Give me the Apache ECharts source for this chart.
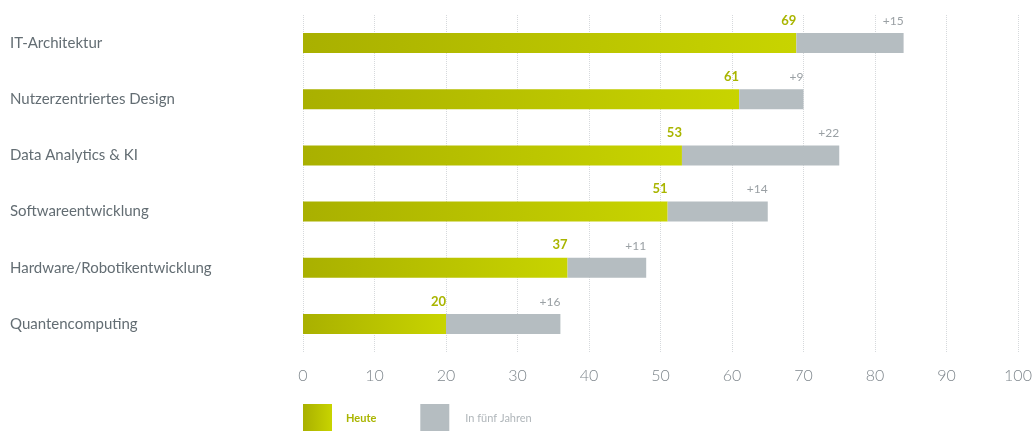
<!DOCTYPE html>
<html><head><meta charset="utf-8">
<script src="https://cdn.jsdelivr.net/npm/echarts@6/dist/echarts.min.js"></script>
<style>html,body{margin:0;padding:0;background:#fff}#c{width:1035px;height:431px}</style>
</head><body><div id="c"></div>
<script>
const categories = ["IT-Architektur","Nutzerzentriertes Design","Data Analytics & KI","Softwareentwicklung","Hardware/Robotikentwicklung","Quantencomputing"];
const heute = [69,61,53,51,37,20];
const zuwachs = [15,9,22,14,11,16];
const xTicks = [0,10,20,30,40,50,60,70,80,90,100];
const seriesNames = ["Heute","In fünf Jahren"];

const green = {type:'linear',x:0,y:0,x2:1,y2:0,colorStops:[{offset:0,color:'#a9b000'},{offset:1,color:'#c8d400'}]};
const grey = '#b5bdc1';
const font = 'Lato, "Open Sans", sans-serif';

const chart = echarts.init(document.getElementById('c'));
chart.setOption({
  animation:false,
  textStyle:{fontFamily:font},
  grid:{left:303,right:17,top:15,bottom:79},
  xAxis:{type:'value',min:0,max:100,interval:10,
    axisLine:{show:false},axisTick:{show:false},
    splitLine:{show:true,lineStyle:{type:'dotted',color:'#d6d9dc',width:1}},
    axisLabel:{color:'#7f878d',fontSize:16,fontWeight:300,margin:16,fontFamily:font,
      formatter:v=>xTicks.includes(v)?String(v):''}},
  yAxis:{type:'category',data:categories,inverse:true,
    axisLine:{show:false},axisTick:{show:false},
    axisLabel:{color:'#636d73',fontSize:15,align:'left',margin:293,fontFamily:font}},
  legend:{left:303,top:404,padding:0,itemWidth:29,itemHeight:28,itemGap:44,icon:'rect',
    data:[
      {name:seriesNames[0],textStyle:{color:'#aab500',fontWeight:'bold',fontSize:11,padding:[0,0,0,9]}},
      {name:seriesNames[1],textStyle:{color:'#b0b6ba',fontSize:11,padding:[0,0,0,11]}}
    ]},
  series:[
    {name:seriesNames[0],type:'bar',stack:'s',barWidth:20,data:heute,
     itemStyle:{color:green},
     label:{show:true,position:['100%',0],align:'right',verticalAlign:'bottom',offset:[0,-6],
       color:'#a9b500',fontWeight:'bold',fontSize:13,fontFamily:font}},
    {name:seriesNames[1],type:'bar',stack:'s',barWidth:20,data:zuwachs,
     itemStyle:{color:grey},
     label:{show:true,position:['100%',0],align:'right',verticalAlign:'bottom',offset:[0,-6],
       color:'#9aa0a4',fontSize:12,fontFamily:font,formatter:p=>'+'+p.value}}
  ]
});
</script></body></html>
